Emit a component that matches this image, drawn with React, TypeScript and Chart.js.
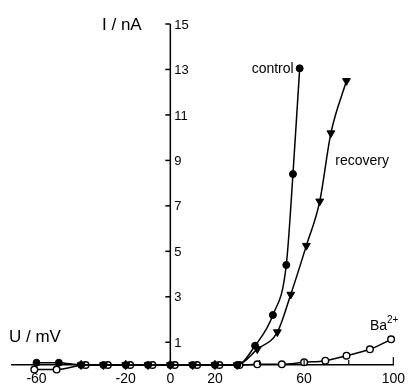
import React, { useEffect, useRef } from "react";
import { Chart, registerables } from "chart.js";

Chart.register(...registerables);

// ---- data ----
const controlV = [-60, -50, -40, -30, -20, -10, 0, 10, 20, 30, 38, 46, 52, 55, 58];
const controlI = [0.1, 0.1, 0, 0, 0, 0, 0, 0, 0, 0, 0.85, 2.2, 4.4, 8.4, 13.05];

const recoveryV = [-40, -30, -20, -10, 0, 10, 20, 30, 39, 48, 54, 61, 67, 72, 79];
const recoveryI = [0, 0, 0, 0, 0, 0, 0, 0, 0.7, 1.45, 3.1, 5.25, 7.2, 10.2, 12.5];

const bariumV = [-61, -51, -38, -28, -18, -8, 2, 12, 22, 31, 39, 50, 60, 69.5, 79, 89.5, 99];
const bariumI = [-0.2, -0.2, 0, 0, 0, 0, 0, 0, 0, 0, 0.03, 0.03, 0.12, 0.19, 0.41, 0.69, 1.13];

const xTicks = [-60, -40, -20, 0, 20, 40, 60, 80, 100];
const xLabels = [-60, -20, 0, 20, 60, 100];
const yTicks = [1, 3, 5, 7, 9, 11, 13, 15];

const FONT = "'Liberation Sans', Arial, sans-serif";

const decorPlugin = {
  id: "decor",
  afterDraw(chart: any) {
    const ctx = chart.ctx;
    const xs = chart.scales.x;
    const ys = chart.scales.y;
    const x0 = xs.getPixelForValue(0);
    const yTop = ys.getPixelForValue(15);
    const yBot = ys.getPixelForValue(0);
    ctx.save();
    ctx.strokeStyle = "#000";
    ctx.fillStyle = "#000";
    ctx.lineWidth = 1.5;
    // y axis line
    ctx.beginPath();
    ctx.moveTo(x0, yTop);
    ctx.lineTo(x0, yBot);
    ctx.stroke();
    // y ticks + labels
    ctx.font = `13px ${FONT}`;
    ctx.textAlign = "left";
    ctx.textBaseline = "middle";
    for (const v of yTicks) {
      const py = ys.getPixelForValue(v);
      ctx.beginPath();
      ctx.moveTo(x0 - 5, py);
      ctx.lineTo(x0, py);
      ctx.stroke();
      ctx.fillText(String(v), x0 + 4, py + 1);
    }
    // x ticks upward
    ctx.lineWidth = 1.2;
    for (const v of xTicks) {
      const px = xs.getPixelForValue(v);
      ctx.beginPath();
      ctx.moveTo(px, yBot);
      ctx.lineTo(px, yBot - (v === 100 ? 8 : 5));
      ctx.stroke();
    }
    // axis titles
    ctx.font = `17px ${FONT}`;
    ctx.textAlign = "left";
    ctx.fillText("I / nA", 102, 25);
    ctx.fillText("U / mV", 9, 337);
    // series labels
    ctx.font = `14px ${FONT}`;
    const cx = xs.getPixelForValue(controlV[controlV.length - 1]);
    const cy = ys.getPixelForValue(controlI[controlI.length - 1]);
    ctx.textAlign = "right";
    ctx.fillText("control", cx - 6, cy + 1);
    ctx.textAlign = "left";
    ctx.fillText("recovery", xs.getPixelForValue(74), ys.getPixelForValue(8.95));
    const bx = xs.getPixelForValue(89.5);
    const by = ys.getPixelForValue(1.7);
    ctx.fillText("Ba", bx, by);
    const bw = ctx.measureText("Ba").width;
    ctx.font = `10px ${FONT}`;
    ctx.fillText("2+", bx + bw, by - 6);
    ctx.restore();
  },
};

export default function App() {
  const ref = useRef<HTMLCanvasElement | null>(null);
  useEffect(() => {
    if (!ref.current) return;
    const pts = (xv: number[], yv: number[]) => xv.map((x, i) => ({ x, y: yv[i] }));
    const common = {
      borderColor: "#000",
      borderWidth: 1.5,
      pointBorderColor: "#000",
      cubicInterpolationMode: "monotone" as const,
      clip: false as any,
      fill: false,
    };
    const chart = new Chart(ref.current, {
      type: "line",
      data: {
        datasets: [
          {
            ...common,
            label: "control",
            data: pts(controlV, controlI),
            pointStyle: "circle",
            pointRadius: 3.5,
            pointBackgroundColor: "#000",
            pointBorderWidth: 1,
          },
          {
            ...common,
            label: "recovery",
            data: pts(recoveryV, recoveryI),
            pointStyle: "triangle",
            pointRotation: 180,
            pointRadius: 4.5,
            pointBackgroundColor: "#000",
            pointBorderWidth: 1,
          },
          {
            ...common,
            label: "Ba2+",
            data: pts(bariumV, bariumI),
            pointStyle: "circle",
            pointRadius: 3.3,
            pointBackgroundColor: "#fff",
            pointBorderWidth: 1.4,
          },
        ],
      },
      options: {
        animation: false,
        responsive: false,
        parsing: false as any,
        layout: { padding: { left: 12, right: 14, top: 24, bottom: 0 } },
        plugins: { legend: { display: false }, tooltip: { enabled: false } },
        scales: {
          x: {
            type: "linear",
            min: -71,
            max: 100,
            position: "bottom",
            afterBuildTicks: (s: any) => {
              s.ticks = xTicks.map((v) => ({ value: v }));
            },
            afterFit: (s: any) => {
              s.height = 25;
            },
            grid: { display: false, drawTicks: false },
            border: { display: true, color: "#000", width: 1.5 },
            ticks: {
              color: "#000",
              padding: 6,
              maxRotation: 0,
              autoSkip: false,
              font: { family: FONT, size: 14 },
              callback: (v: any) => (xLabels.includes(Number(v)) ? String(v) : ""),
            },
          },
          y: {
            type: "linear",
            min: 0,
            max: 15,
            display: false,
          },
        },
      },
      plugins: [decorPlugin],
    });
    return () => chart.destroy();
  }, []);
  return (
    <div style={{ position: "fixed", left: 0, top: 0, width: 411, height: 390, background: "#fff" }}>
      <canvas ref={ref} width={411} height={390} style={{ display: "block" }} />
    </div>
  );
}
